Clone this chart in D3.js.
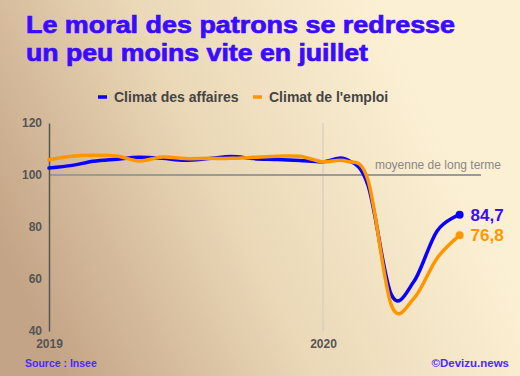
<!DOCTYPE html>
<html>
<head>
<meta charset="utf-8">
<script src="https://cdn.jsdelivr.net/npm/d3@7"></script>
<style>
  html, body { margin: 0; padding: 0; }
  body { width: 520px; height: 376px; overflow: hidden; }
  svg text { font-family: "Liberation Sans", Arial, sans-serif; }
</style>
</head>
<body>
<svg id="chart"></svg>
<script>
// monthly values, Jan 2019 -> Jul 2020
var months = ['2019-01','2019-02','2019-03','2019-04','2019-05','2019-06','2019-07','2019-08',
  '2019-09','2019-10','2019-11','2019-12','2020-01','2020-02','2020-03','2020-04','2020-05',
  '2020-06','2020-07'];
var affaires = [102.7, 103.7, 105.3, 106.1, 106.8, 106.4, 105.7, 106.3, 107.1, 106.3, 106.0,
  105.6, 105.1, 106.0, 96.0, 54.0, 59.0, 78.5, 84.7];
var emploi = [105.9, 107.2, 107.6, 107.3, 105.4, 106.9, 106.3, 106.4, 106.4, 106.8, 107.2,
  107.2, 105.1, 105.3, 98.0, 50.0, 52.5, 68.0, 76.8];
var yTicks = [40, 60, 80, 100, 120];
var xTicks = ['2019-01', '2020-01'];
var longTermMean = 100;
var seriesNames = ['Climat des affaires', "Climat de l'emploi"];
var endLabels = ['84,7', '76,8'];
var titleLines = ['Le moral des patrons se redresse', 'un peu moins vite en juillet'];

var W = 520, H = 376;
var parse = d3.timeParse('%Y-%m');
var violet = '#3a0cff';
var colors = ['#0a00ff', '#ff9600'];
var labelColors = [violet, '#ff9600'];

var svg = d3.select('#chart').attr('width', W).attr('height', H);

// background
var defs = svg.append('defs');
var grad = defs.append('linearGradient')
  .attr('id', 'bg')
  .attr('x1', '0').attr('y1', '0.65')
  .attr('x2', '0.85').attr('y2', '0.35');
grad.append('stop').attr('offset', '0').attr('stop-color', '#c4a486');
grad.append('stop').attr('offset', '0.5').attr('stop-color', '#ead8b7');
grad.append('stop').attr('offset', '1').attr('stop-color', '#fcf0d4');
svg.append('rect').attr('width', W).attr('height', H).attr('fill', 'url(#bg)');

// title (stretched to the width of the heavy original face)
var titleWidths = [429, 342];
svg.append('g').selectAll('text')
  .data(titleLines)
  .enter()
  .append('text')
  .attr('x', 26)
  .attr('y', function(d, i) { return 33 + i * 28; })
  .attr('fill', violet)
  .attr('stroke', violet)
  .attr('stroke-width', 0.7)
  .attr('font-size', 23)
  .attr('font-weight', 'bold')
  .attr('textLength', function(d, i) { return titleWidths[i]; })
  .attr('lengthAdjust', 'spacingAndGlyphs')
  .text(function(d) { return d; });

// scales
var x = d3.scaleTime()
  .domain([parse(xTicks[0]), parse(xTicks[1])])
  .range([49, 323]);
var y = d3.scaleLinear().domain([40, 120]).range([331, 123]);

// 2020 separator
svg.append('line')
  .attr('x1', x(parse(xTicks[1]))).attr('x2', x(parse(xTicks[1])))
  .attr('y1', y(120)).attr('y2', y(40))
  .attr('stroke', '#cfc8bc').attr('stroke-width', 1);

// long term mean
svg.append('line')
  .attr('x1', x(parse(xTicks[0]))).attr('x2', 481)
  .attr('y1', y(longTermMean)).attr('y2', y(longTermMean))
  .attr('stroke', '#9a9a96').attr('stroke-width', 2);
svg.append('text')
  .attr('x', 501).attr('y', y(longTermMean) - 6)
  .attr('text-anchor', 'end')
  .attr('font-size', 12)
  .attr('fill', '#8a8885')
  .text('moyenne de long terme');

// y axis
var yAxis = svg.append('g')
  .attr('transform', 'translate(' + x(parse(xTicks[0])) + ',0)')
  .call(d3.axisLeft(y).tickValues(yTicks).tickSize(0).tickSizeOuter(0).tickPadding(7));
yAxis.select('.domain').attr('stroke', '#555').attr('stroke-width', 1.5);
yAxis.selectAll('text')
  .attr('font-size', 12).attr('font-weight', 'bold').attr('fill', '#555')
  .style('font-family', '"Liberation Sans", Arial, sans-serif');

// x axis
var xAxis = svg.append('g')
  .attr('transform', 'translate(0,' + 335 + ')')
  .call(d3.axisBottom(x).tickValues(xTicks.map(parse)).tickFormat(d3.timeFormat('%Y')).tickSize(0).tickPadding(4));
xAxis.select('.domain').remove();
xAxis.selectAll('text')
  .attr('font-size', 12).attr('font-weight', 'bold').attr('fill', '#555')
  .style('font-family', '"Liberation Sans", Arial, sans-serif');

// lines
var series = [affaires, emploi];
var line = d3.line()
  .x(function(d, i) { return x(parse(months[i])); })
  .y(function(d) { return y(d); })
  .curve(d3.curveCardinal);

svg.append('g').selectAll('path')
  .data(series)
  .enter()
  .append('path')
  .attr('d', function(d) { return line(d); })
  .attr('fill', 'none')
  .attr('stroke', function(d, i) { return colors[i]; })
  .attr('stroke-width', 3.5)
  .attr('stroke-linecap', 'round');

// end dots + labels
var last = months.length - 1;
var ends = svg.append('g').selectAll('g')
  .data(series)
  .enter()
  .append('g');
ends.append('circle')
  .attr('cx', x(parse(months[last])))
  .attr('cy', function(d) { return y(d[last]); })
  .attr('r', 4)
  .attr('fill', function(d, i) { return colors[i]; });
ends.append('text')
  .attr('x', x(parse(months[last])) + 11)
  .attr('y', function(d) { return y(d[last]) + 6; })
  .attr('font-size', 17)
  .attr('font-weight', 'bold')
  .attr('fill', function(d, i) { return labelColors[i]; })
  .text(function(d, i) { return endLabels[i]; });

// legend
var legendX = [98, 253];
var legend = svg.append('g').selectAll('g')
  .data(seriesNames)
  .enter()
  .append('g')
  .attr('transform', function(d, i) { return 'translate(' + legendX[i] + ',97)'; });
legend.append('line')
  .attr('x1', 0).attr('x2', 9)
  .attr('stroke', function(d, i) { return colors[i]; })
  .attr('stroke-width', 3.5);
legend.append('text')
  .attr('x', 16).attr('y', 5)
  .attr('font-size', 14).attr('font-weight', 'bold').attr('fill', '#454545')
  .text(function(d) { return d; });

// footer
svg.append('text')
  .attr('x', 25).attr('y', 367)
  .attr('font-size', 10.5).attr('font-weight', 'bold').attr('fill', '#4a2aff')
  .text('Source : Insee');
svg.append('text')
  .attr('x', 509).attr('y', 367)
  .attr('text-anchor', 'end')
  .attr('font-size', 11.5).attr('font-weight', 'bold').attr('fill', '#4a2aff')
  .text('©Devizu.news');
</script>
</body>
</html>
